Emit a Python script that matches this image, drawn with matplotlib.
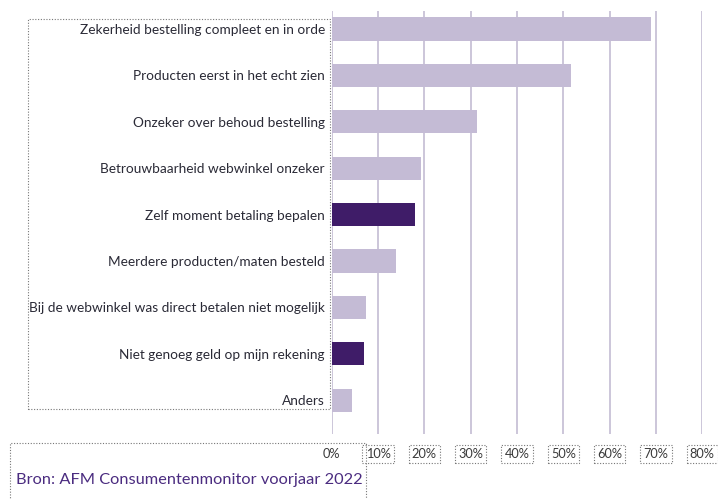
import matplotlib
matplotlib.use('Agg')
import matplotlib.pyplot as plt
from matplotlib.patches import Rectangle

plt.rcParams['font.family'] = ['Lato', 'DejaVu Sans']

# data
labels = ['Zekerheid bestelling compleet en in orde',
          'Producten eerst in het echt zien',
          'Onzeker over behoud bestelling',
          'Betrouwbaarheid webwinkel onzeker',
          'Zelf moment betaling bepalen',
          'Meerdere producten/maten besteld',
          'Bij de webwinkel was direct betalen niet mogelijk',
          'Niet genoeg geld op mijn rekening',
          'Anders']
values = [69.0, 51.6, 31.3, 19.3, 18.0, 13.9, 7.4, 7.0, 4.4]
highlight = [False, False, False, False, True, False, False, True, False]
xticks = [0, 10, 20, 30, 40, 50, 60, 70, 80]
xticklabels = ['0%', '10%', '20%', '30%', '40%', '50%', '60%', '70%', '80%']
source = 'Bron: AFM Consumentenmonitor voorjaar 2022'

light = '#c4bbd5'
dark = '#3f1c68'
grid_c = '#c8c1d7'

W, H = 718, 499
fig = plt.figure(figsize=(W / 100, H / 100), dpi=100)
ax = fig.add_axes([331.7 / W, 1 - 434 / H, (702.3 - 331.7) / W, (434 - 11) / H])

for x in xticks:
    ax.axvline(x, color=grid_c, lw=1.3, zorder=0)

colors = [dark if h else light for h in highlight]
ax.barh(range(len(values)), values, height=0.5, color=colors, zorder=2)

ax.set_xlim(0, 80)
ax.set_ylim(8.73, -0.39)
for s in ax.spines.values():
    s.set_visible(False)

ax.set_yticks(range(len(labels)))
ax.set_yticklabels(labels, fontsize=9.8, color='#2a2a36')
ax.set_xticks(xticks)
ax.set_xticklabels(xticklabels, fontsize=9.2, color='#3a3a3a')
ax.tick_params(axis='y', length=0, pad=5)
ax.tick_params(axis='x', length=0, pad=10)

for i, t in enumerate(ax.get_xticklabels()):
    if i > 0:
        t.set_bbox(dict(facecolor='none', edgecolor='#777777', linestyle=(0, (1, 1.5)),
                        lw=0.8, boxstyle='square,pad=0.25'))

# dotted frames seen in the reference
fig.patches.append(Rectangle((28 / W, 1 - 409 / H), (330 - 28) / W, (409 - 19) / H,
                             transform=fig.transFigure, fill=False, ec='#777777',
                             lw=0.8, ls=(0, (1, 1.5))))
fig.patches.append(Rectangle((10 / W, 1 - 505 / H), (366.5 - 10) / W, (505 - 443) / H,
                             transform=fig.transFigure, fill=False, ec='#777777',
                             lw=0.8, ls=(0, (1, 1.5))))

fig.text(16 / W, 1 - 480 / H, source, fontsize=11.8, color='#4b2c80', va='center', ha='left')

fig.savefig('out.png', dpi=100)
